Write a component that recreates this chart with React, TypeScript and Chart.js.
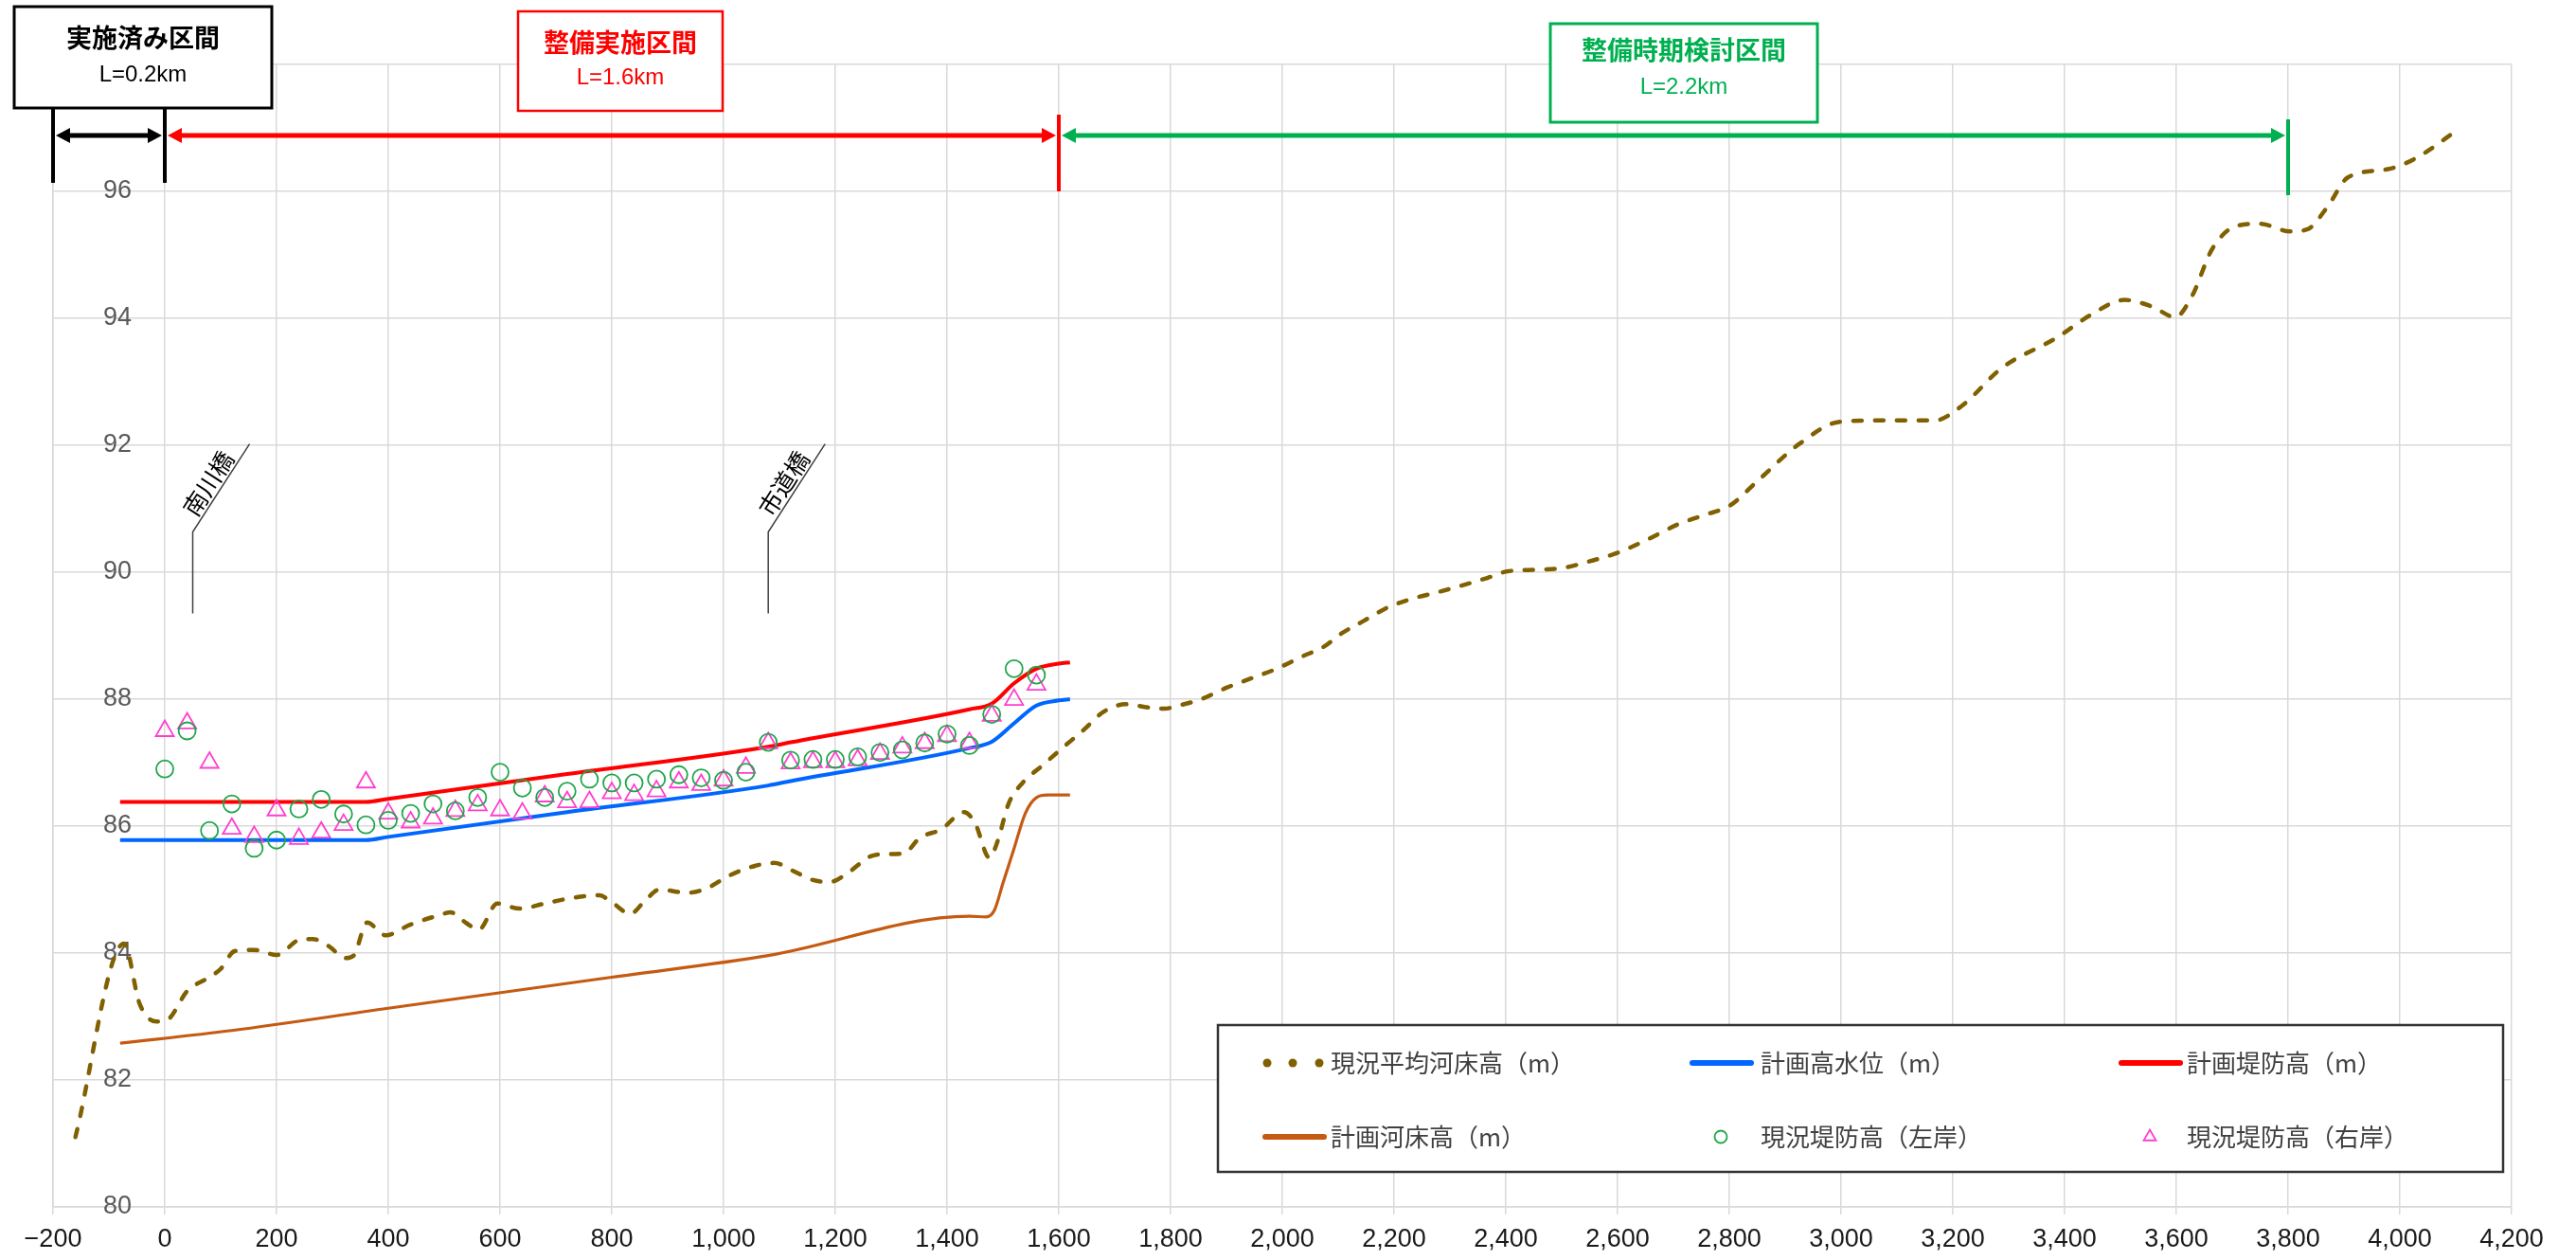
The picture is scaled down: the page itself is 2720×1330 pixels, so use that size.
import React, { useEffect, useRef } from 'react';
import { Chart, registerables } from 'chart.js';

Chart.register(...registerables);

// ---------------- data ----------------
const X_MIN = -200;
const X_MAX = 4200;
const X_STEP = 200;
const Y_MIN = 80;
const Y_MAX = 98;
const Y_STEP = 2;

const SERIES_LABELS = [
  '現況平均河床高（m）',
  '計画高水位（m）',
  '計画堤防高（m）',
  '計画河床高（m）',
  '現況堤防高（左岸）',
  '現況堤防高（右岸）',
];

// 現況平均河床高
const BED_DIST = [
  -160, -73, -45, -15, 5, 40, 80, 100, 125, 160, 200, 245, 265, 295, 322, 338, 362, 395, 440, 485,
  512, 540, 562, 595, 635, 680, 730, 778, 800, 833, 862, 885, 935, 970, 1010, 1055, 1090, 1130, 1160, 1190,
  1225, 1262, 1290, 1322, 1352, 1390, 1430, 1450, 1476, 1490, 1510, 1535, 1570, 1605, 1645, 1680, 1720, 1760, 1790, 1810,
  1855, 1900, 1945, 1990, 2035, 2075, 2105, 2145, 2190, 2236, 2280, 2321, 2367, 2401, 2458, 2504, 2549, 2598, 2650, 2707,
  2755, 2801, 2852, 2925, 2998, 3070, 3167, 3216, 3288, 3385, 3446, 3507, 3555, 3598, 3628, 3664, 3706, 3749, 3804, 3834,
  3870, 3907, 3979, 4028, 4107,
];
const BED_ELEV = [
  81.1, 84.15, 83.2, 82.92, 82.95, 83.4, 83.62, 83.75, 84.03, 84.05, 83.97, 84.22, 84.22, 84.1, 83.92, 83.96, 84.48, 84.28, 84.45, 84.58,
  84.64, 84.47, 84.37, 84.78, 84.7, 84.78, 84.87, 84.91, 84.8, 84.62, 84.85, 85.0, 84.95, 85.02, 85.22, 85.37, 85.42, 85.27, 85.15, 85.12,
  85.28, 85.52, 85.56, 85.57, 85.82, 85.95, 86.22, 86.05, 85.5, 85.75, 86.35, 86.68, 86.95, 87.22, 87.52, 87.8, 87.92, 87.87, 87.85, 87.89,
  88.0, 88.18, 88.33, 88.48, 88.67, 88.83, 89.03, 89.23, 89.45, 89.59, 89.69, 89.79, 89.91, 90.01, 90.04, 90.07, 90.17, 90.3, 90.5, 90.75,
  90.9, 91.05, 91.45, 92.02, 92.37, 92.39, 92.39, 92.62, 93.22, 93.69, 94.05, 94.29, 94.19, 94.02, 94.35, 95.09, 95.45, 95.49, 95.37, 95.4,
  95.75, 96.22, 96.35, 96.52, 96.99,
];

// 計画高水位
const HWL_DIST = [-80, 360, 400, 720, 1080, 1120, 1440, 1480, 1520, 1560, 1600, 1620];
const HWL_ELEV = [85.78, 85.78, 85.83, 86.22, 86.64, 86.71, 87.23, 87.33, 87.62, 87.9, 87.98, 88.0];

// 計画堤防高
const LEVEE_DIST = [-80, 360, 400, 720, 1080, 1120, 1440, 1480, 1520, 1560, 1600, 1620];
const LEVEE_ELEV = [86.38, 86.38, 86.43, 86.82, 87.25, 87.32, 87.84, 87.93, 88.25, 88.48, 88.56, 88.58];

// 計画河床高
const PLAN_BED_DIST = [-80, 120, 400, 800, 1080, 1440, 1470, 1485, 1500, 1520, 1540, 1560, 1580, 1620];
const PLAN_BED_ELEV = [82.58, 82.78, 83.13, 83.62, 83.96, 84.58, 84.57, 84.68, 85.1, 85.65, 86.2, 86.45, 86.49, 86.49];

// 現況堤防高 測点
const BANK_DIST = [
  0, 40, 80, 120, 160, 200, 240, 280, 320, 360, 400, 440, 480, 520, 560, 600, 640, 680, 720, 760,
  800, 840, 880, 920, 960, 1000, 1040, 1080, 1120, 1160, 1200, 1240, 1280, 1320, 1360, 1400, 1440, 1480, 1520, 1560,
];
const LEFT_BANK = [
  86.9, 87.5, 85.93, 86.35, 85.65, 85.78, 86.27, 86.42, 86.19, 86.02, 86.09, 86.2, 86.35, 86.24, 86.45, 86.85, 86.6, 86.45, 86.55, 86.74,
  86.68, 86.68, 86.74, 86.81, 86.76, 86.72, 86.85, 87.32, 87.04, 87.05, 87.05, 87.09, 87.16, 87.2, 87.31, 87.45, 87.27, 87.76, 88.48, 88.38,
];
const RIGHT_BANK = [
  87.5, 87.62, 87.0, 85.96, 85.83, 86.25, 85.8, 85.9, 86.02, 86.69, 86.2, 86.06, 86.12, 86.24, 86.33, 86.25, 86.2, 86.47, 86.38, 86.38,
  86.52, 86.49, 86.55, 86.69, 86.65, 86.72, 86.92, 87.31, 86.99, 87.01, 87.01, 87.04, 87.14, 87.24, 87.31, 87.42, 87.31, 87.74, 87.99, 88.23,
];

// 区間
const SECTION_TITLES = ['実施済み区間', '整備実施区間', '整備時期検討区間'];
const SECTION_LENGTHS = ['L=0.2km', 'L=1.6km', 'L=2.2km'];
const SECTION_FROM = [-200, 0, 1600];
const SECTION_TO = [0, 1600, 3800];

// 橋梁
const BRIDGE_NAMES = ['南川橋', '市道橋'];
const BRIDGE_DIST = [50, 1080];

// ---------------- styles ----------------
const C_BED = '#806000';
const C_HWL = '#0066FF';
const C_LEVEE = '#FF0000';
const C_PLAN_BED = '#C55A11';
const C_LEFT = '#1FA64A';
const C_RIGHT = '#FF3FCF';
const SECTION_COLORS = ['#000000', '#FF0000', '#00B050'];
const GRID = '#d9d9d9';
const FONT_JP = '"Noto Sans CJK JP", "Noto Sans", sans-serif';
const FONT_NUM = '"Liberation Sans", Arial, sans-serif';

const pts = (xs: number[], ys: number[]) => xs.map((x, i) => ({ x, y: ys[i] }));

function arrowHead(ctx: CanvasRenderingContext2D, x: number, y: number, dir: number, color: string) {
  ctx.beginPath();
  ctx.moveTo(x, y);
  ctx.lineTo(x - dir * 15, y - 8);
  ctx.lineTo(x - dir * 15, y + 8);
  ctx.closePath();
  ctx.fillStyle = color;
  ctx.fill();
}

const annotationPlugin = {
  id: 'riverAnnotations',
  afterDraw(chart: any) {
    const ctx: CanvasRenderingContext2D = chart.ctx;
    const xs = chart.scales.x;
    const ys = chart.scales.y;
    const ca = chart.chartArea;
    ctx.save();

    // ---- bridges ----
    BRIDGE_NAMES.forEach((name, i) => {
      const bx = xs.getPixelForValue(BRIDGE_DIST[i]);
      const yb = ys.getPixelForValue(89.35);
      const yt = yb - 86;
      const dx = 60;
      const dy = -93;
      ctx.strokeStyle = '#404040';
      ctx.lineWidth = 1.5;
      ctx.beginPath();
      ctx.moveTo(bx, yb);
      ctx.lineTo(bx, yt);
      ctx.lineTo(bx + dx, yt + dy);
      ctx.stroke();
      const ang = Math.atan2(dy, dx);
      const t = 0.47;
      ctx.save();
      ctx.translate(bx + dx * t, yt + dy * t);
      ctx.rotate(ang);
      ctx.font = `25px ${FONT_JP}`;
      ctx.textAlign = 'center';
      ctx.textBaseline = 'middle';
      ctx.fillStyle = '#000';
      ctx.fillText(name, 0, -14);
      ctx.restore();
    });

    // ---- section boxes / arrows ----
    const boxes = [
      { l: 15, t: 7, r: 287, b: 114, lw: 3, y1: 40, y2: 79 },
      { l: 547, t: 12, r: 763, b: 117, lw: 2.5, y1: 45, y2: 82 },
      { l: 1637, t: 25, r: 1919, b: 129, lw: 3, y1: 53, y2: 92 },
    ];
    const arrowY = 143;
    SECTION_TITLES.forEach((title, i) => {
      const col = SECTION_COLORS[i];
      const bx = boxes[i];
      ctx.fillStyle = '#fff';
      ctx.fillRect(bx.l, bx.t, bx.r - bx.l, bx.b - bx.t);
      ctx.strokeStyle = col;
      ctx.lineWidth = bx.lw;
      ctx.strokeRect(bx.l, bx.t, bx.r - bx.l, bx.b - bx.t);
      ctx.fillStyle = col;
      ctx.textAlign = 'center';
      ctx.textBaseline = 'middle';
      ctx.font = `bold 27px ${FONT_JP}`;
      const cx = (bx.l + bx.r) / 2;
      ctx.fillText(title, cx, bx.y1);
      ctx.font = `24px ${FONT_NUM}`;
      ctx.fillText(SECTION_LENGTHS[i], cx, bx.y2);

      const x1 = xs.getPixelForValue(SECTION_FROM[i]);
      const x2 = xs.getPixelForValue(SECTION_TO[i]);
      ctx.strokeStyle = col;
      ctx.lineWidth = 5;
      ctx.beginPath();
      ctx.moveTo(x1 + 12, arrowY);
      ctx.lineTo(x2 - 12, arrowY);
      ctx.stroke();
      arrowHead(ctx, x1 + 3, arrowY, -1, col);
      arrowHead(ctx, x2 - 3, arrowY, 1, col);
    });
    // end ticks
    const tickDefs = [
      { v: SECTION_FROM[0], c: SECTION_COLORS[0], t: 114, b: 193 },
      { v: SECTION_TO[0], c: SECTION_COLORS[0], t: 114, b: 193 },
      { v: SECTION_TO[1], c: SECTION_COLORS[1], t: 121, b: 202 },
      { v: SECTION_TO[2], c: SECTION_COLORS[2], t: 126, b: 206 },
    ];
    tickDefs.forEach((d) => {
      const px = xs.getPixelForValue(d.v);
      ctx.strokeStyle = d.c;
      ctx.lineWidth = 4;
      ctx.beginPath();
      ctx.moveTo(px, d.t);
      ctx.lineTo(px, d.b);
      ctx.stroke();
    });

    // ---- legend ----
    const lg = { l: ca.right - 1366, t: ca.bottom - 192, w: 1357, h: 155 };
    ctx.fillStyle = '#fff';
    ctx.fillRect(lg.l, lg.t, lg.w, lg.h);
    ctx.strokeStyle = '#333';
    ctx.lineWidth = 2.5;
    ctx.strokeRect(lg.l, lg.t, lg.w, lg.h);
    const swX = [47, 498, 951];
    const txX = [119, 573, 1023];
    const rowY = [40, 118];
    const ds = chart.data.datasets;
    ds.forEach((d: any, i: number) => {
      const row = Math.floor(i / 3);
      const colI = i % 3;
      const sx = lg.l + swX[colI];
      const sy = lg.t + rowY[row];
      const kind = d.legendKind;
      ctx.strokeStyle = d.borderColor;
      ctx.fillStyle = d.borderColor;
      if (kind === 'dots') {
        [5, 32, 60].forEach((o) => {
          ctx.beginPath();
          ctx.arc(sx + o, sy, 4.5, 0, Math.PI * 2);
          ctx.fill();
        });
      } else if (kind === 'line') {
        ctx.lineWidth = 6;
        ctx.lineCap = 'round';
        ctx.beginPath();
        ctx.moveTo(sx + 3, sy);
        ctx.lineTo(sx + 65, sy);
        ctx.stroke();
        ctx.lineCap = 'butt';
      } else if (kind === 'circle') {
        ctx.lineWidth = 1.8;
        ctx.beginPath();
        ctx.arc(sx + 33, sy, 6.5, 0, Math.PI * 2);
        ctx.stroke();
      } else if (kind === 'triangle') {
        ctx.lineWidth = 1.8;
        const r = 7.5;
        ctx.beginPath();
        ctx.moveTo(sx + 33, sy - r);
        ctx.lineTo(sx + 33 + r * 0.866, sy + r * 0.5);
        ctx.lineTo(sx + 33 - r * 0.866, sy + r * 0.5);
        ctx.closePath();
        ctx.stroke();
      }
      ctx.fillStyle = '#404040';
      ctx.font = `26px ${FONT_JP}`;
      ctx.textAlign = 'left';
      ctx.textBaseline = 'middle';
      ctx.fillText(d.label, lg.l + txX[colI], sy);
    });

    ctx.restore();
  },
};

export default function App() {
  const ref = useRef<HTMLCanvasElement | null>(null);

  useEffect(() => {
    if (!ref.current) return;
    const lineBase = {
      showLine: true,
      pointRadius: 0,
      pointHoverRadius: 0,
      fill: false,
      cubicInterpolationMode: 'monotone' as const,
      order: 1,
    };
    const chart = new Chart(ref.current, {
      type: 'scatter',
      data: {
        datasets: [
          {
            ...lineBase,
            label: SERIES_LABELS[0],
            data: pts(BED_DIST, BED_ELEV),
            borderColor: C_BED,
            backgroundColor: C_BED,
            borderWidth: 4.5,
            borderDash: [9, 14],
            borderCapStyle: 'round',
            legendKind: 'dots',
            order: 2,
          } as any,
          {
            ...lineBase,
            label: SERIES_LABELS[1],
            data: pts(HWL_DIST, HWL_ELEV),
            borderColor: C_HWL,
            backgroundColor: C_HWL,
            borderWidth: 4,
            legendKind: 'line',
          } as any,
          {
            ...lineBase,
            label: SERIES_LABELS[2],
            data: pts(LEVEE_DIST, LEVEE_ELEV),
            borderColor: C_LEVEE,
            backgroundColor: C_LEVEE,
            borderWidth: 4,
            legendKind: 'line',
          } as any,
          {
            ...lineBase,
            label: SERIES_LABELS[3],
            data: pts(PLAN_BED_DIST, PLAN_BED_ELEV),
            borderColor: C_PLAN_BED,
            backgroundColor: C_PLAN_BED,
            borderWidth: 3.2,
            legendKind: 'line',
          } as any,
          {
            label: SERIES_LABELS[4],
            data: pts(BANK_DIST, LEFT_BANK),
            showLine: false,
            pointStyle: 'circle',
            pointRadius: 9,
            pointBorderWidth: 1.8,
            borderColor: C_LEFT,
            backgroundColor: 'rgba(0,0,0,0)',
            legendKind: 'circle',
            order: 0,
          } as any,
          {
            label: SERIES_LABELS[5],
            data: pts(BANK_DIST, RIGHT_BANK),
            showLine: false,
            pointStyle: 'triangle',
            pointRadius: 11,
            pointBorderWidth: 1.8,
            borderColor: C_RIGHT,
            backgroundColor: 'rgba(0,0,0,0)',
            legendKind: 'triangle',
            order: 0,
          } as any,
        ],
      },
      options: {
        animation: false,
        responsive: true,
        maintainAspectRatio: false,
        devicePixelRatio: 1,
        events: [],
        layout: { padding: { left: 56, right: 68, top: 68, bottom: 0 } },
        plugins: {
          legend: { display: false },
          tooltip: { enabled: false },
          title: { display: false },
        },
        scales: {
          x: {
            type: 'linear',
            position: 'bottom',
            min: X_MIN,
            max: X_MAX,
            ticks: {
              stepSize: X_STEP,
              autoSkip: false,
              maxRotation: 0,
              minRotation: 0,
              padding: 10,
              color: '#1a1a1a',
              font: { family: FONT_NUM, size: 27 },
              callback: (v: any) => {
                const n = Number(v);
                return n < 0 ? '\u2212' + Math.abs(n).toLocaleString('en-US') : n.toLocaleString('en-US');
              },
            },
            grid: { color: GRID, lineWidth: 1.5, drawTicks: true, tickLength: 8, tickColor: GRID },
            border: { display: true, color: GRID, width: 1.5 },
            afterFit: (s: any) => {
              s.height = 56;
              s.paddingLeft = 0;
              s.paddingRight = 0;
            },
          },
          y: {
            type: 'linear',
            position: 'left',
            min: Y_MIN,
            max: Y_MAX,
            ticks: {
              stepSize: Y_STEP,
              mirror: true,
              padding: 53,
              color: '#595959',
              font: { family: FONT_NUM, size: 27 },
            },
            grid: { color: GRID, lineWidth: 1.5, drawTicks: false },
            border: { display: true, color: GRID, width: 1.5 },
            afterFit: (s: any) => {
              s.width = 0;
              s.paddingTop = 0;
              s.paddingBottom = 0;
            },
          },
        },
      } as any,
      plugins: [annotationPlugin],
    });
    return () => chart.destroy();
  }, []);

  return (
    <div style={{ position: 'absolute', left: 0, top: 0, width: 2720, height: 1330, background: '#fff' }}>
      <canvas ref={ref} />
    </div>
  );
}
